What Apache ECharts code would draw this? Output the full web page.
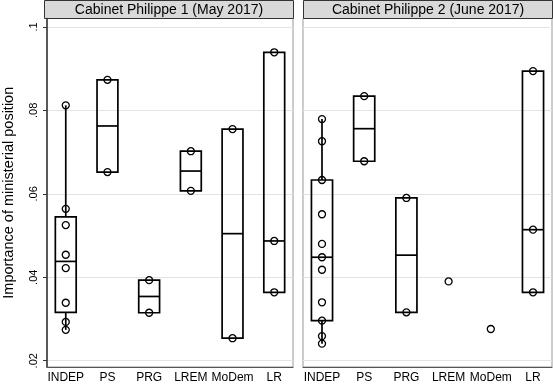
<!DOCTYPE html>
<html>
<head>
<meta charset="utf-8">
<script src="https://cdn.jsdelivr.net/npm/echarts@6/dist/echarts.min.js"></script>
<style>
  html, body { margin: 0; padding: 0; background: #fff; }
  #chart { width: 553px; height: 386px; }
</style>
</head>
<body>
<div id="chart"></div>
<script>
// parties on the x axis
var parties = ['INDEP', 'PS', 'PRG', 'LREM', 'MoDem', 'LR'];
var panelTitles = ['Cabinet Philippe 1 (May 2017)', 'Cabinet Philippe 2 (June 2017)'];
var yTicks = [0.02, 0.04, 0.06, 0.08, 0.1];

// importance of each minister's position, per party
var cab1 = [
    [0.0812, 0.0564, 0.0525, 0.0454, 0.0422, 0.0339, 0.0293, 0.0274], // INDEP
    [0.0873, 0.0652],                                                  // PS
    [0.0393, 0.0315],                                                  // PRG
    [0.0702, 0.0607],                                                  // LREM
    [0.0755, 0.0254],                                                  // MoDem
    [0.0939, 0.0487, 0.0364]                                           // LR
];
var cab2 = [
    [0.0779, 0.0726, 0.0633, 0.0551, 0.0480, 0.0448, 0.0418, 0.0340, 0.0296, 0.0259, 0.0241],
    [0.0834, 0.0678],
    [0.0590, 0.0316],
    [0.0390],
    [0.0276],
    [0.0894, 0.0514, 0.0364]
];

// stata-style centile
function centile(s, p) {
    var np = s.length * p / 100;
    var i = Math.floor(np);
    if (np === i) return (s[i - 1] + s[i]) / 2;
    return s[Math.ceil(np) - 1];
}

// [x, lowAdj, q1, median, q3, highAdj]
function boxStats(groups) {
    var out = [];
    groups.forEach(function (g, idx) {
        if (g.length < 2) return;
        var s = g.slice().sort(function (a, b) { return a - b; });
        var q1 = centile(s, 25), md = centile(s, 50), q3 = centile(s, 75);
        var iqr = q3 - q1;
        var lo = s.filter(function (v) { return v >= q1 - 1.5 * iqr; })[0];
        var hi = s.filter(function (v) { return v <= q3 + 1.5 * iqr; }).pop();
        out.push([idx, lo, q1, md, q3, hi]);
    });
    return out;
}

function points(groups) {
    var out = [];
    groups.forEach(function (g, idx) {
        g.forEach(function (v) { out.push([idx, v]); });
    });
    return out;
}

function renderBox(params, api) {
    var x = api.value(0);
    var lo = api.coord([x, api.value(1)]);
    var q1 = api.coord([x, api.value(2)]);
    var md = api.coord([x, api.value(3)]);
    var q3 = api.coord([x, api.value(4)]);
    var hi = api.coord([x, api.value(5)]);
    var w = api.size([0.5, 0])[0];
    var st = { stroke: '#000', lineWidth: 1.7, fill: null };
    return {
        type: 'group',
        children: [
            { type: 'rect', shape: { x: q3[0] - w / 2, y: q3[1], width: w, height: q1[1] - q3[1] }, style: st },
            { type: 'line', shape: { x1: md[0] - w / 2, y1: md[1], x2: md[0] + w / 2, y2: md[1] }, style: st },
            { type: 'line', shape: { x1: hi[0], y1: hi[1], x2: q3[0], y2: q3[1] }, style: st },
            { type: 'line', shape: { x1: q1[0], y1: q1[1], x2: lo[0], y2: lo[1] }, style: st }
        ]
    };
}

var chart = echarts.init(document.getElementById('chart'));

var grids = [
    { left: 44, top: 18.5, width: 249, height: 348.5, show: true, borderColor: '#999', borderWidth: 1 },
    { left: 303, top: 18.5, width: 249, height: 348.5, show: true, borderColor: '#999', borderWidth: 1 }
];

var xAxes = [0, 1].map(function (i) {
    return {
        type: 'value', gridIndex: i, min: -0.45, max: 5.45, interval: 1,
        splitLine: { show: false },
        axisTick: { show: false },
        axisLine: { show: true, onZero: false, lineStyle: { color: '#555', width: 1.2 } },
        axisLabel: {
            customValues: [0, 1, 2, 3, 4, 5],
            formatter: function (v) { return parties[Math.round(v)]; },
            color: '#000', fontSize: 12, fontFamily: 'Liberation Sans', margin: 5
        }
    };
});

var yAxes = [0, 1].map(function (i) {
    return {
        type: 'value', gridIndex: i, min: 0.0185, max: 0.102, splitNumber: 4,
        name: i === 0 ? 'Importance of ministerial position' : '',
        nameLocation: 'middle', nameGap: 31,
        nameTextStyle: { color: '#000', fontSize: 14.5, fontFamily: 'Liberation Sans' },
        axisLine: { show: i === 0, onZero: false, lineStyle: { color: '#333', width: 1.5 } },
        axisTick: { show: i === 0, length: 4, customValues: yTicks, lineStyle: { color: '#333' } },
        axisLabel: {
            show: i === 0, customValues: yTicks, rotate: 90, margin: 8,
            color: '#000', fontSize: 11, fontFamily: 'Liberation Sans',
            formatter: function (v) { return String(+v.toFixed(3)).replace(/^0/, ''); }
        },
        splitLine: { show: true, lineStyle: { color: '#e3e3e3', width: 1 } }
    };
});

var series = [];
[cab1, cab2].forEach(function (groups, i) {
    series.push({
        type: 'custom', xAxisIndex: i, yAxisIndex: i,
        renderItem: renderBox,
        encode: { x: 0, y: [1, 2, 3, 4, 5] },
        data: boxStats(groups), z: 2
    });
    series.push({
        type: 'scatter', xAxisIndex: i, yAxisIndex: i,
        symbol: 'circle', symbolSize: 7,
        itemStyle: { color: 'rgba(0,0,0,0)', borderColor: '#000', borderWidth: 1.3, opacity: 1 },
        data: points(groups), z: 3
    });
});

// panel headers
var graphic = panelTitles.map(function (t, i) {
    var g = grids[i];
    return {
        type: 'group', left: g.left, top: 0,
        children: [
            { type: 'rect', shape: { x: 0, y: 0.5, width: g.width, height: 18 },
              style: { fill: '#d9d9d9', stroke: '#333', lineWidth: 1 } },
            { type: 'text', x: g.width / 2, y: 10,
              style: { text: t, fill: '#000', font: '14px "Liberation Sans"', align: 'center', verticalAlign: 'middle' } }
        ]
    };
});

chart.setOption({
    animation: false,
    backgroundColor: '#fff',
    grid: grids,
    xAxis: xAxes,
    yAxis: yAxes,
    series: series,
    graphic: graphic
});
</script>
</body>
</html>
